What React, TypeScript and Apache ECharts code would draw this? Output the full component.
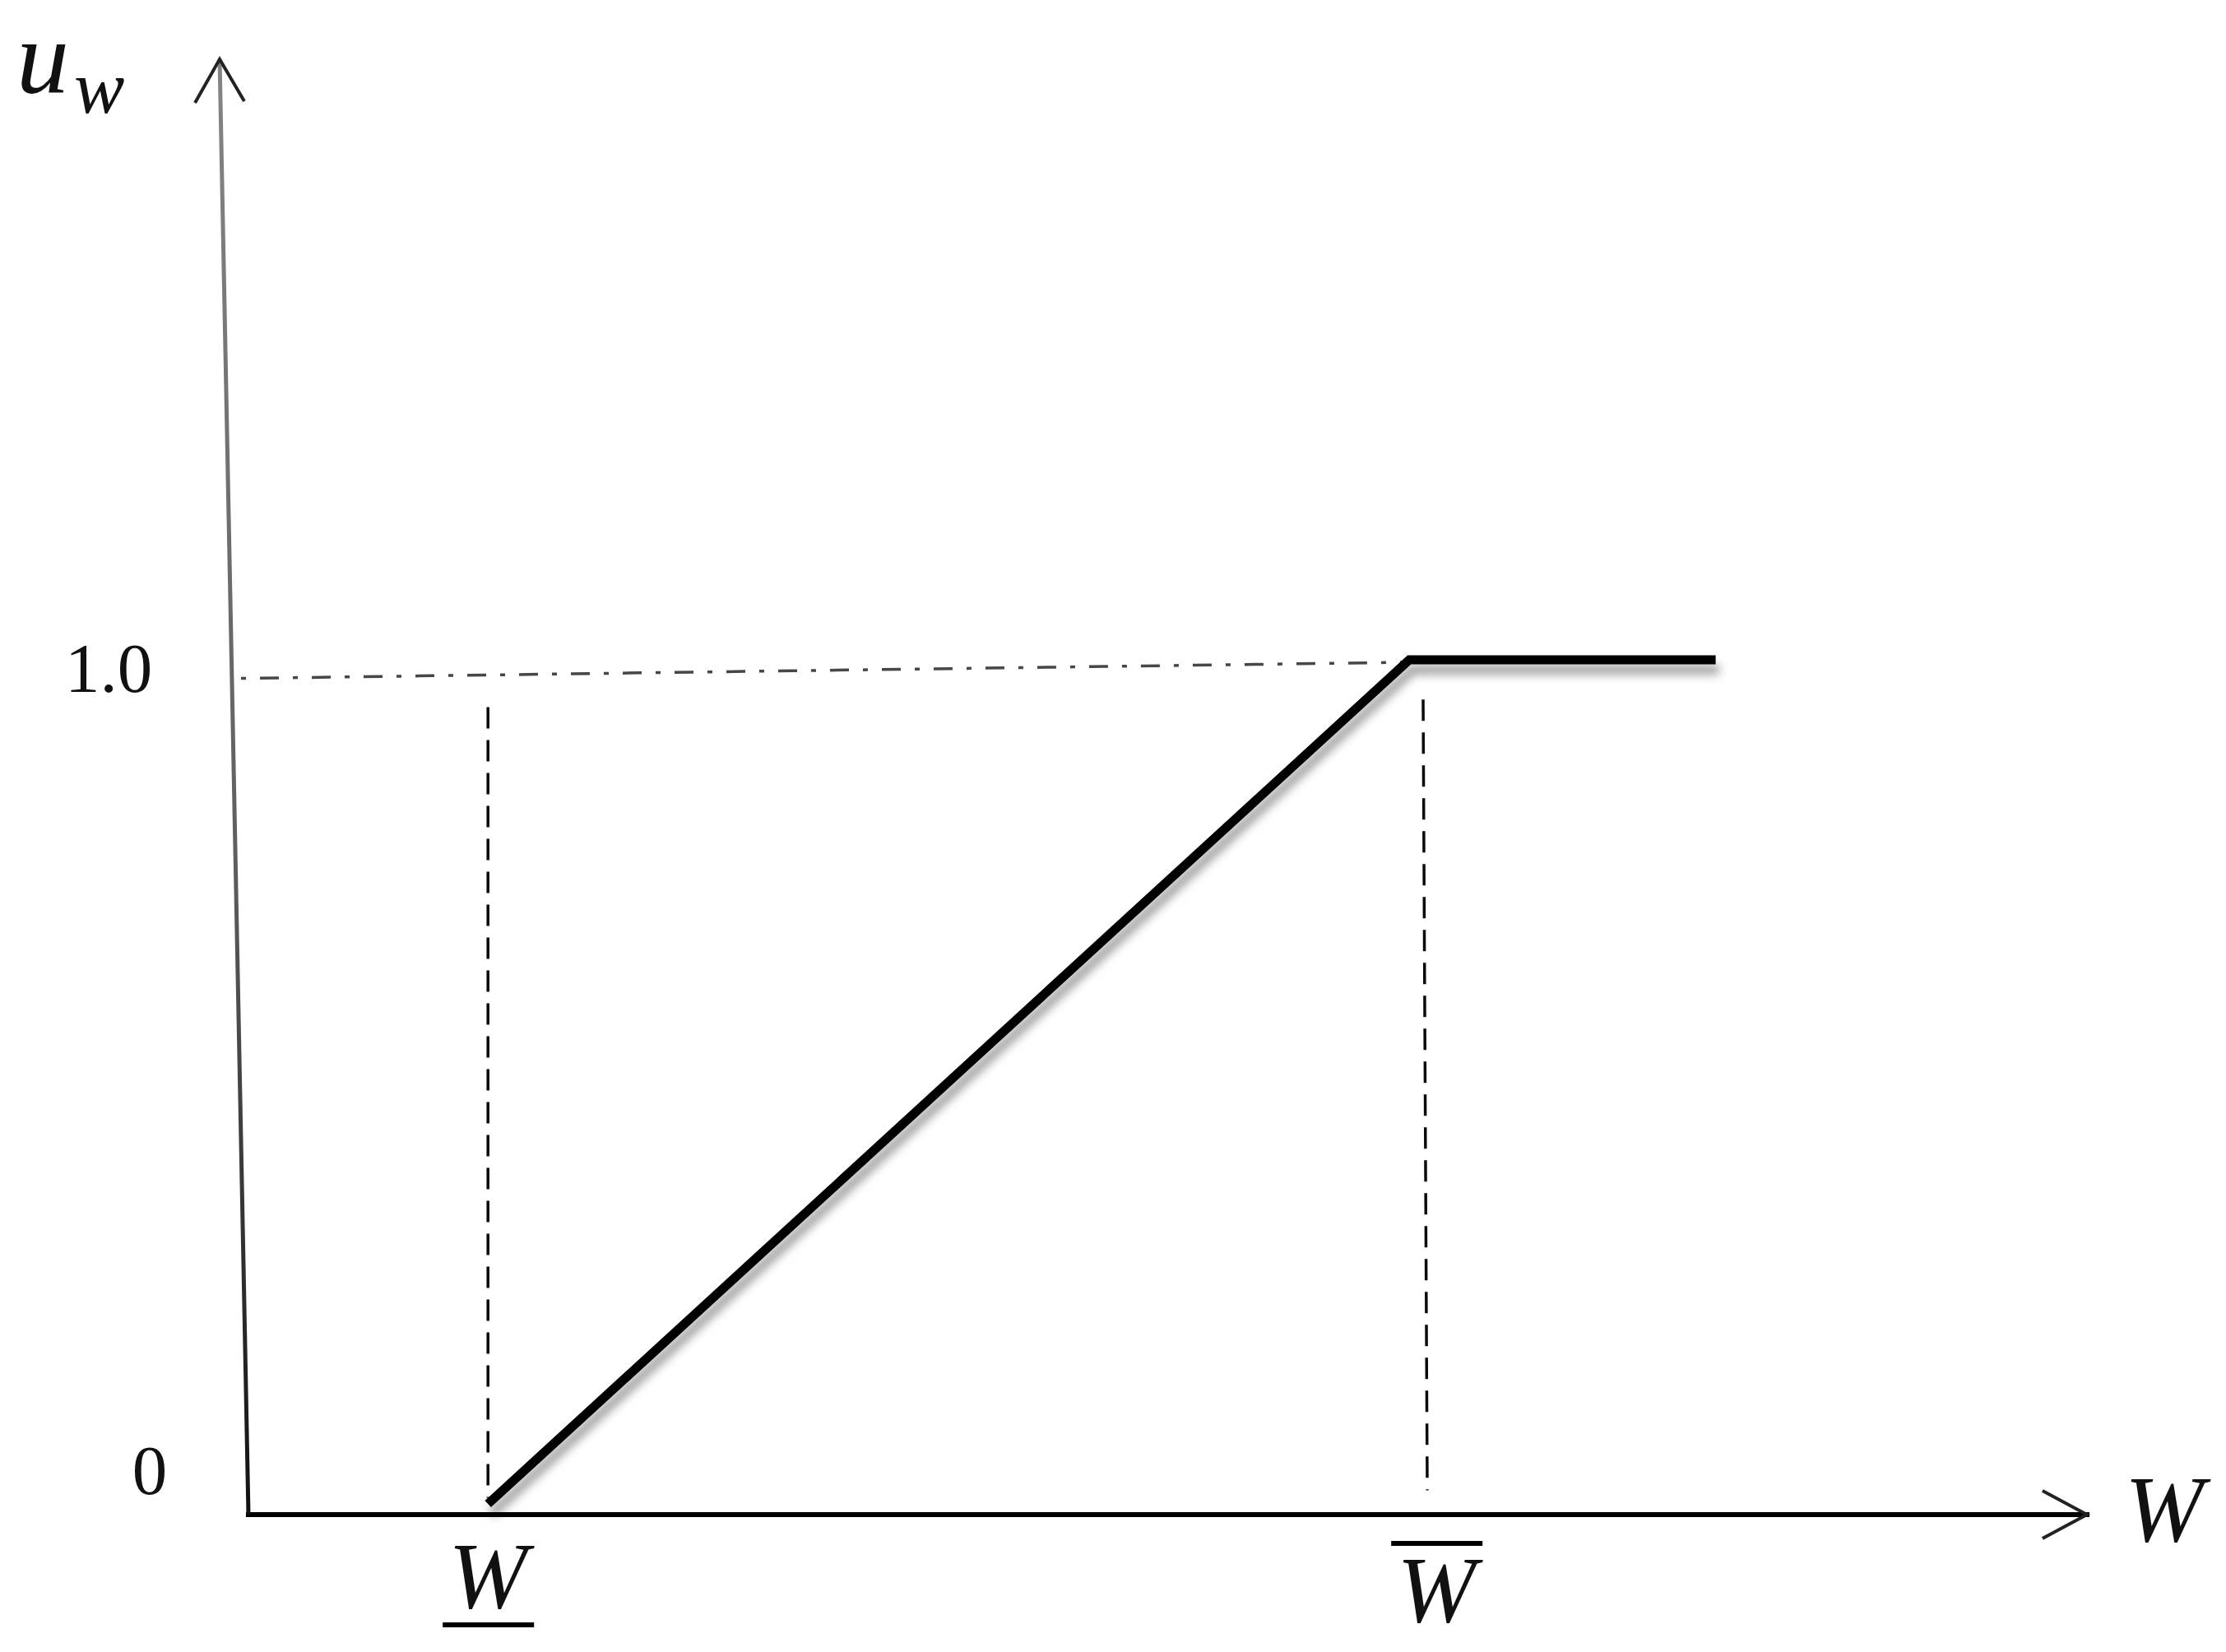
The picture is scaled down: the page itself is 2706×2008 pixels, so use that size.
import React, { useEffect, useRef } from "react";
import * as echarts from "echarts";

// ---- data ----
const W_LOW = 1.04; // lower threshold W
const W_HIGH = 5.04; // upper threshold W
const W_END = 6.37; // end of drawn flat part
const U_LOW = 0;
const U_HIGH = 1.0;

const utilityX = [W_LOW, W_HIGH, W_END];
const utilityY = [U_LOW, U_HIGH, U_HIGH];

const yTickValues = [0, 1.0];
const yTickLabels = ["0", "1.0"];

const xMarkValues = [W_LOW, W_HIGH];
const xMarkLabels = ["W", "W"];
const xMarkBars = ["under", "over"];

// guide lines (hand-drawn, slightly off-straight)
const refLineX = [-0.032, 5.01];
const refLineY = [0.978, 0.997];
const lowGuideX = [1.04, 1.04];
const lowGuideY = [0.944, 0.007];
const highGuideX = [5.1, 5.118];
const highGuideY = [0.953, 0.016];

// axis frame
const X_MIN = -0.3;
const X_MAX = 8.0;
const Y_MIN = -0.06;
const Y_MAX = 1.7115;
const X_AXIS_Y = -0.0127;
const X_AXIS_END = 7.982;
const yAxisX = [0, -0.125];
const yAxisY = [X_AXIS_Y, Y_MAX];
const xArrowX = [7.789, X_AXIS_END, 7.789];
const xArrowY = [0.0156, X_AXIS_Y, -0.0409];
const yArrowX = [-0.232, -0.125, -0.018];
const yArrowY = [1.6598, Y_MAX, 1.6618];

const zip = (xs: number[], ys: number[]) => xs.map((x, i) => [x, ys[i]]);

const SERIF = '"Liberation Serif", "DejaVu Serif", serif';

export default function App() {
  const ref = useRef<HTMLDivElement>(null);

  useEffect(() => {
    document.body.style.margin = "0";
    const chart = echarts.init(ref.current!, null, { renderer: "svg" });
    const lineBase = {
      type: "line",
      showSymbol: false,
      symbol: "none",
      clip: false,
      silent: true,
    };
    // 280 px per x unit, 1026 px per y unit
    const gridLeft = 302 + X_MIN * 280;
    const gridWidth = (X_MAX - X_MIN) * 280;
    const gridTop = 72;
    const gridHeight = (Y_MAX - Y_MIN) * 1026;
    chart.setOption({
      animation: false,
      backgroundColor: "#ffffff",
      grid: { left: gridLeft, top: gridTop, width: gridWidth, height: gridHeight },
      xAxis: { type: "value", min: X_MIN, max: X_MAX, show: false },
      yAxis: { type: "value", min: Y_MIN, max: Y_MAX, show: false },
      series: [
        {
          ...lineBase,
          name: "refLine",
          data: zip(refLineX, refLineY),
          lineStyle: { color: "#474747", width: 3.5, type: [6, 17, 23, 17] },
        },
        {
          ...lineBase,
          name: "lowGuide",
          data: zip(lowGuideX, lowGuideY),
          lineStyle: { color: "#0a0a0a", width: 3.5, type: [26, 14] },
        },
        {
          ...lineBase,
          name: "highGuide",
          data: zip(highGuideX, highGuideY),
          lineStyle: { color: "#0a0a0a", width: 3.5, type: [26, 14] },
        },
        {
          ...lineBase,
          name: "xAxis",
          data: [
            [0, X_AXIS_Y],
            [X_AXIS_END, X_AXIS_Y],
          ],
          lineStyle: { color: "#000", width: 6, cap: "square" },
        },
        {
          ...lineBase,
          name: "xArrow",
          data: zip(xArrowX, xArrowY),
          lineStyle: { color: "#222", width: 4, join: "miter" },
        },
        {
          ...lineBase,
          name: "yAxis",
          data: zip(yAxisX, yAxisY),
          lineStyle: {
            width: 5,
            color: new echarts.graphic.LinearGradient(0, 0, 0, 1, [
              { offset: 0, color: "#858585" },
              { offset: 0.55, color: "#5e5e5e" },
              { offset: 1, color: "#111" },
            ]),
          },
        },
        {
          ...lineBase,
          name: "yArrow",
          data: zip(yArrowX, yArrowY),
          lineStyle: { color: "#222", width: 4, join: "miter" },
        },
        {
          ...lineBase,
          name: "utility",
          z: 5,
          data: zip(utilityX, utilityY),
          lineStyle: {
            color: "#000",
            width: 11,
            join: "miter",
            shadowColor: "rgba(0,0,0,0.4)",
            shadowBlur: 12,
            shadowOffsetX: 4,
            shadowOffsetY: 12,
          },
        },
      ],
    });

    const px = (x: number, y: number) =>
      chart.convertToPixel({ gridIndex: 0 } as any, [x, y]) as number[];

    const graphics: any[] = [];

    // y tick labels
    const tickOffsets = [
      [-120, -41],
      [-170, 10],
    ];
    yTickValues.forEach((v, i) => {
      const p = px(0, v);
      graphics.push({
        type: "text",
        x: p[0] + tickOffsets[i][0],
        y: p[1] + tickOffsets[i][1],
        style: {
          text: yTickLabels[i],
          font: `85px ${SERIF}`,
          fill: "#111",
          align: "center",
          verticalAlign: "middle",
        },
      });
    });

    // W marks under the x axis
    const markOffsets = [
      [0, 88],
      [33, 105],
    ];
    xMarkValues.forEach((v, i) => {
      const p = px(v, 0);
      const cx = p[0] + markOffsets[i][0];
      const cy = p[1] + markOffsets[i][1];
      graphics.push({
        type: "text",
        x: cx,
        y: cy,
        style: {
          text: xMarkLabels[i],
          font: `italic 115px ${SERIF}`,
          fill: "#111",
          align: "center",
          verticalAlign: "middle",
        },
      });
      const barY = xMarkBars[i] === "under" ? cy + 59 : cy - 57;
      graphics.push({
        type: "line",
        shape: { x1: cx - 55, y1: barY, x2: cx + 56, y2: barY },
        style: { stroke: "#000", lineWidth: 6 },
      });
    });

    // axis titles
    const xEnd = px(X_AXIS_END, X_AXIS_Y);
    graphics.push({
      type: "text",
      x: xEnd[0] + 94,
      y: xEnd[1] - 7,
      style: {
        text: "W",
        font: `italic 115px ${SERIF}`,
        fill: "#111",
        align: "center",
        verticalAlign: "middle",
      },
    });
    graphics.push({
      type: "text",
      x: 20,
      y: 70,
      style: {
        text: "u",
        font: `italic 128px ${SERIF}`,
        fill: "#111",
        align: "left",
        verticalAlign: "middle",
      },
    });
    graphics.push({
      type: "text",
      x: 90,
      y: 106,
      style: {
        text: "w",
        font: `italic 92px ${SERIF}`,
        fill: "#111",
        align: "left",
        verticalAlign: "middle",
      },
    });

    chart.setOption({ graphic: graphics });

    return () => chart.dispose();
  }, []);

  return (
    <div
      ref={ref}
      style={{ width: 2706, height: 2008, background: "#fff" }}
    />
  );
}
